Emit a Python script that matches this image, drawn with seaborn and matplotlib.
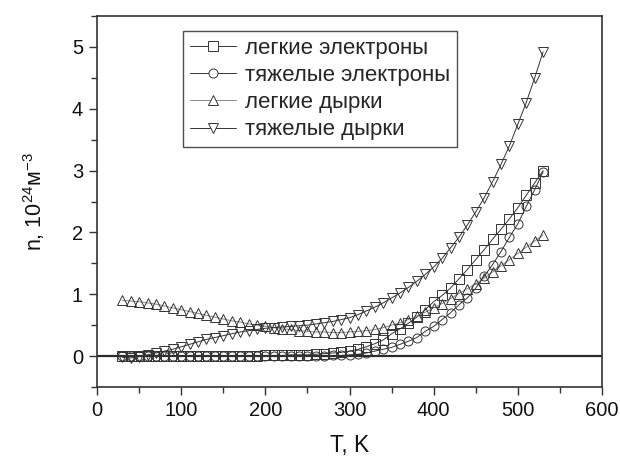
import numpy as np
import pandas as pd
import matplotlib
matplotlib.use("Agg")
import matplotlib.pyplot as plt
import seaborn as sns
from matplotlib.ticker import MultipleLocator

T = list(range(30, 540, 10))

light_electrons = [0.00, 0.00, 0.00, 0.00, 0.00, 0.00, 0.00, 0.00, 0.00, 0.00,
                   0.00, 0.00, 0.00, 0.00, 0.00, 0.00, 0.00, 0.01, 0.01, 0.01,
                   0.02, 0.02, 0.02, 0.03, 0.04, 0.05, 0.06, 0.08, 0.11, 0.15,
                   0.20, 0.26, 0.36, 0.44, 0.53, 0.63, 0.75, 0.88, 0.98, 1.10,
                   1.25, 1.40, 1.56, 1.72, 1.89, 2.05, 2.22, 2.40, 2.60, 2.80,
                   3.00]
heavy_electrons = [0.00, 0.00, 0.00, 0.00, 0.00, 0.00, 0.00, 0.00, 0.00, 0.00,
                   0.00, 0.00, 0.00, 0.00, 0.00, 0.00, 0.00, 0.00, 0.00, 0.00,
                   0.00, 0.00, 0.00, 0.00, 0.00, 0.01, 0.01, 0.02, 0.03, 0.05,
                   0.08, 0.11, 0.14, 0.19, 0.24, 0.30, 0.40, 0.48, 0.59, 0.70,
                   0.83, 0.94, 1.10, 1.29, 1.48, 1.69, 1.92, 2.14, 2.42, 2.69,
                   2.98]
light_holes = [0.90, 0.89, 0.88, 0.86, 0.84, 0.81, 0.78, 0.75, 0.72, 0.69,
               0.66, 0.63, 0.60, 0.57, 0.55, 0.52, 0.50, 0.48, 0.46, 0.44,
               0.43, 0.41, 0.40, 0.39, 0.39, 0.38, 0.38, 0.39, 0.40, 0.41,
               0.43, 0.46, 0.50, 0.54, 0.59, 0.65, 0.71, 0.78, 0.85, 0.93,
               1.01, 1.09, 1.17, 1.26, 1.36, 1.46, 1.56, 1.66, 1.76, 1.86,
               1.96]
heavy_holes = [-0.02, -0.03, -0.01, 0.02, 0.05, 0.08, 0.11, 0.15, 0.19, 0.23,
               0.27, 0.30, 0.33, 0.36, 0.39, 0.41, 0.43, 0.45, 0.46, 0.47,
               0.48, 0.49, 0.50, 0.52, 0.54, 0.56, 0.59, 0.62, 0.67, 0.73,
               0.79, 0.86, 0.94, 1.02, 1.11, 1.21, 1.32, 1.44, 1.58, 1.75,
               1.92, 2.12, 2.33, 2.56, 2.82, 3.10, 3.40, 3.75, 4.10, 4.50,
               4.92]

labels = ["легкие электроны", "тяжелые электроны", "легкие дырки", "тяжелые дырки"]
x_ticks = [0, 100, 200, 300, 400, 500, 600]
y_ticks = [0, 1, 2, 3, 4, 5]

sns.set_theme(style="white")
plt.rcParams['font.family'] = ['Liberation Sans', 'DejaVu Sans']
plt.rcParams['mathtext.fontset'] = 'custom'
plt.rcParams['mathtext.rm'] = 'Liberation Sans'
plt.rcParams['mathtext.it'] = 'Liberation Sans'

fig = plt.figure(figsize=(6.2, 4.58), dpi=100)
ax = fig.add_axes([97/620, 1-387/458, (602-97)/620, (387-16)/458])

ax.axhline(0, color='#2a2a2a', lw=1.6, zorder=1)

series = [light_electrons, heavy_electrons, light_holes, heavy_holes]
markers = ['s', 'o', '^', 'v']
line_colors = ['#333333', '#333333', '#888888', '#333333']
for vals, mk, lc, lab in zip(series, markers, line_colors, labels):
    df = pd.DataFrame({"T": T, "n": vals})
    sns.lineplot(data=df, x="T", y="n", ax=ax, color=lc, lw=0.7,
                 marker=mk, markersize=7.5 if mk in '^v' else 6.5,
                 markerfacecolor='none', markeredgecolor='#333333',
                 markeredgewidth=0.7, label=lab, zorder=3)

ax.set_xlim(0, 600)
ax.set_ylim(-0.5, 5.5)
ax.set_xticks(x_ticks)
ax.set_yticks(y_ticks)
ax.xaxis.set_minor_locator(MultipleLocator(50))
ax.yaxis.set_minor_locator(MultipleLocator(0.5))
ax.tick_params(axis='both', which='major', direction='out', length=6, width=1,
               color='#333333', labelsize=14.5, labelcolor='#111111', pad=4,
               bottom=True, left=True)
ax.tick_params(axis='both', which='minor', direction='out', length=4, width=1,
               color='#333333', bottom=True, left=True)
for s in ax.spines.values():
    s.set_color('#333333')
    s.set_linewidth(1.2)

ax.set_xlabel("T, K", fontsize=16.5, color='#111111', labelpad=10)
ax.set_ylabel(r"n, 10$^{24}$м$^{-3}$", fontsize=15.5, color='#111111', labelpad=18)

leg = ax.legend(loc='upper left', bbox_to_anchor=((183-97)/505, 1-(31-16)/371),
                fontsize=16, frameon=True, fancybox=False, edgecolor='#222222',
                handlelength=2.1, handletextpad=0.4, labelspacing=0.28,
                borderpad=0.3, borderaxespad=0)
leg.get_frame().set_linewidth(1.0)
for h in leg.legend_handles:
    h.set_markerfacecolor('white')

fig.savefig("out.png", dpi=100)
